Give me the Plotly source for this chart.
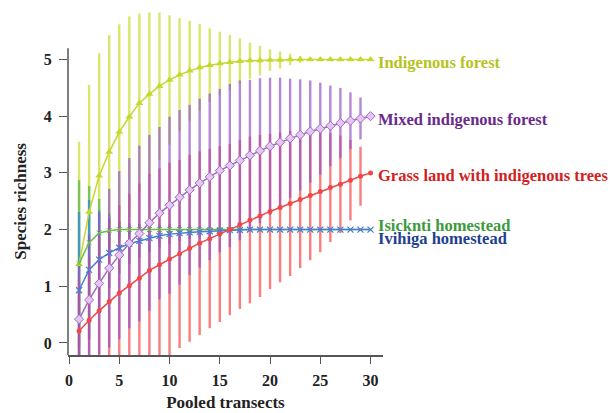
import plotly.graph_objects as go

# ---------------- data ----------------
transects = list(range(1, 31))

indigenous_forest = [1.39, 2.31, 2.95, 3.37, 3.72, 3.99, 4.23, 4.39, 4.53, 4.64,
                     4.73, 4.80, 4.86, 4.90, 4.93, 4.95, 4.97, 4.98, 4.98, 4.99,
                     4.99, 5.0, 5.0, 5.0, 5.0, 5.0, 5.0, 5.0, 5.0, 5.0]
indigenous_forest_sd = [2.16, 2.24, 2.16, 2.06, 1.90, 1.77, 1.58, 1.44, 1.30, 1.14,
                        1.00, 0.88, 0.77, 0.65, 0.56, 0.48, 0.40, 0.32, 0.26, 0.19,
                        0.15, 0.10, 0.06, 0.0, 0.0, 0.0, 0.0, 0.0, 0.0, 0.0]

mixed_forest = [0.42, 0.76, 1.05, 1.32, 1.55, 1.76, 1.93, 2.12, 2.29, 2.43,
                2.57, 2.70, 2.82, 2.93, 3.04, 3.13, 3.22, 3.31, 3.39, 3.47,
                3.54, 3.61, 3.67, 3.73, 3.78, 3.83, 3.88, 3.92, 3.96, 4.0]
mixed_forest_sd = [0.99, 1.15, 1.25, 1.40, 1.48, 1.50, 1.55, 1.55, 1.52, 1.56,
                   1.54, 1.50, 1.49, 1.47, 1.44, 1.44, 1.41, 1.33, 1.28, 1.21,
                   1.14, 1.05, 0.98, 0.90, 0.81, 0.71, 0.62, 0.50, 0.37, 0.0]

grassland = [0.21, 0.40, 0.57, 0.73, 0.88, 1.01, 1.14, 1.28, 1.38, 1.48,
             1.57, 1.67, 1.76, 1.84, 1.92, 2.00, 2.09, 2.17, 2.24, 2.32,
             2.39, 2.46, 2.53, 2.60, 2.67, 2.74, 2.80, 2.87, 2.94, 3.0]
grassland_sd = [0.90, 1.10, 1.30, 1.45, 1.55, 1.62, 1.67, 1.70, 1.70, 1.70,
                1.66, 1.65, 1.62, 1.58, 1.55, 1.51, 1.49, 1.47, 1.43, 1.37,
                1.32, 1.28, 1.21, 1.14, 1.07, 0.96, 0.86, 0.71, 0.52, 0.0]

isicknti = [1.40, 1.77, 1.94, 1.98, 2.0, 2.0, 2.0, 2.0, 2.0, 2.0,
            2.0, 2.0, 2.0, 2.0, 2.0, 2.0, 2.0, 2.0, 2.0, 2.0,
            2.0, 2.0, 2.0, 2.0, 2.0, 2.0, 2.0, 2.0, 2.0, 2.0]
isicknti_sd = [1.47, 1.00, 0.60, 0.30, 0.15, 0.08, 0.04, 0.0, 0.0, 0.0,
               0.0, 0.0, 0.0, 0.0, 0.0, 0.0, 0.0, 0.0, 0.0, 0.0,
               0.0, 0.0, 0.0, 0.0, 0.0, 0.0, 0.0, 0.0, 0.0, 0.0]

ivihiga = [0.93, 1.29, 1.47, 1.59, 1.68, 1.75, 1.80, 1.85, 1.89, 1.92,
           1.94, 1.95, 1.96, 1.97, 1.98, 1.99, 1.99, 2.0, 2.0, 2.0,
           2.0, 2.0, 2.0, 2.0, 2.0, 2.0, 2.0, 2.0, 2.0, 2.0]
ivihiga_sd = [1.38, 1.23, 0.87, 0.62, 0.46, 0.36, 0.30, 0.25, 0.20, 0.17,
              0.14, 0.12, 0.10, 0.08, 0.06, 0.05, 0.04, 0.03, 0.02, 0.0,
              0.0, 0.0, 0.0, 0.0, 0.0, 0.0, 0.0, 0.0, 0.0, 0.0]

y_ticks = [0, 1, 2, 3, 4, 5]
x_ticks = [0, 5, 10, 15, 20, 25, 30]

SERIF = "Liberation Serif, Times New Roman, serif"

series = [
    dict(name="Indigenous forest", y=indigenous_forest, sd=indigenous_forest_sd,
         line="#c6d830", bar="rgba(208,224,70,0.80)", text="#b4c41c",
         marker=dict(symbol="triangle-up", size=7, color="#c6d830"), yshift=-3),
    dict(name="Isicknti homestead", y=isicknti, sd=isicknti_sd,
         line="#6cbc4c", bar="rgba(100,186,80,0.80)", text="#3c9a3c",
         marker=dict(symbol="x-thin", size=5, line=dict(color="#6cbc4c", width=1)), yshift=4),
    dict(name="Ivihiga homestead", y=ivihiga, sd=ivihiga_sd,
         line="#4a7cd2", bar="rgba(50,140,220,0.75)", text="#1f3f8f",
         marker=dict(symbol="x-thin", size=6, line=dict(color="#4a7cd2", width=1.2)), yshift=-9),
    dict(name="Grass land with indigenous trees", y=grassland, sd=grassland_sd,
         line="#f04848", bar="rgba(246,76,76,0.72)", text="#d21e1e",
         marker=dict(symbol="circle", size=5, color="#f04848"), yshift=-3),
    dict(name="Mixed indigenous forest", y=mixed_forest, sd=mixed_forest_sd,
         line="#a468c6", bar="rgba(150,84,200,0.70)", text="#6a2a8c",
         marker=dict(symbol="diamond", size=7, color="#e2c8ee",
                     line=dict(color="#a468c6", width=1)), yshift=-3),
]

fig = go.Figure()

# error bars first (beneath every line)
for s in series:
    fig.add_trace(go.Scatter(
        x=transects, y=s["y"], mode="markers",
        marker=dict(opacity=0, size=1),
        error_y=dict(type="data", array=s["sd"], visible=True,
                     color=s["bar"], thickness=2.4, width=0),
        showlegend=False, hoverinfo="skip"))

# lines with markers
for s in series:
    fig.add_trace(go.Scatter(
        x=transects, y=s["y"], mode="lines+markers", name=s["name"],
        line=dict(color=s["line"], width=1.5),
        marker=s["marker"], showlegend=False))

# end labels
for s in series:
    fig.add_annotation(
        x=transects[-1], y=s["y"][-1], xref="x", yref="y",
        text=s["name"], showarrow=False, xanchor="left", yanchor="middle",
        xshift=5, yshift=s["yshift"],
        font=dict(family=SERIF, size=16.5, color=s["text"], weight="bold"))

Y_BOTTOM = -0.212
Y_TOP = 5.908
AXIS_TOP = 5.2

# y axis line (stops above the 5 tick, while bars run higher)
fig.add_shape(type="line", xref="paper", yref="y", x0=0, x1=0,
              y0=Y_BOTTOM, y1=AXIS_TOP, line=dict(color="#555555", width=1.5))

# y axis title centred on the drawn axis line
fig.add_annotation(
    xref="paper", yref="y", x=-0.152, y=(Y_BOTTOM + AXIS_TOP) / 2,
    text="Species richness", textangle=-90, showarrow=False,
    xanchor="center", yanchor="middle",
    font=dict(family=SERIF, size=17, color="#222222", weight="bold"))

fig.update_layout(
    width=612, height=413,
    margin=dict(l=68, r=229, t=8, b=58, autoexpand=False),
    paper_bgcolor="white", plot_bgcolor="white",
    showlegend=False,
    xaxis=dict(
        range=[-0.1, 31.24], tickvals=x_ticks, ticks="outside", ticklen=7,
        tickwidth=1.3, tickcolor="#555555", automargin=False,
        showline=True, linecolor="#555555", linewidth=1.5,
        showgrid=False, zeroline=False, ticklabelstandoff=3,
        tickfont=dict(family=SERIF, size=16, color="#222222", weight="bold"),
        title=dict(text="Pooled transects", standoff=8,
                   font=dict(family=SERIF, size=17, color="#222222", weight="bold")),
    ),
    yaxis=dict(
        range=[Y_BOTTOM, Y_TOP], tickvals=y_ticks, ticks="outside", ticklen=8,
        tickwidth=1.3, tickcolor="#555555", automargin=False,
        showline=False, showgrid=False, zeroline=False, ticklabelstandoff=4,
        tickfont=dict(family=SERIF, size=16, color="#222222", weight="bold"),
    ),
)

fig.write_html(
    "out.html",
    config={"displayModeBar": False},
    post_script="document.body.style.margin='0';document.body.style.overflow='hidden';",
)
